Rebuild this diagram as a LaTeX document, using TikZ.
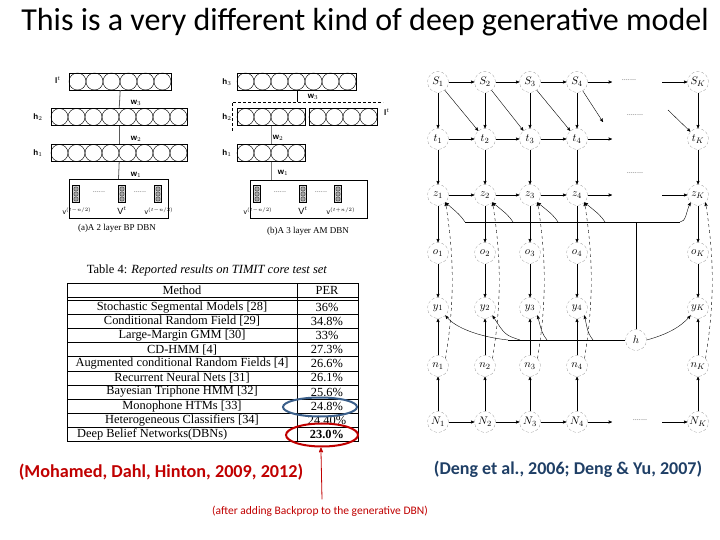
\documentclass[tikz,border=0pt]{standalone}
\usepackage{fontspec}
\setmainfont{Carlito}
\newfontfamily\tabfont{Liberation Serif}
\newfontfamily\dbnfont{Liberation Sans}
\usetikzlibrary{arrows,positioning,calc,shapes.geometric}
\definecolor{slred}{HTML}{C00000}
\definecolor{slblue}{HTML}{1F3F66}
\definecolor{ringblue}{HTML}{3B5F8A}

\tikzset{
  var/.style={circle,draw=gray,densely dashed,very thin,minimum size=21pt,
    inner sep=0pt,font=\fontsize{11}{13}\selectfont},
  dep/.style={->,thin},
  layerbox/.style={draw,thin,minimum height=17pt,inner sep=0pt},
  visbox/.style={draw,thin,inner sep=0pt},
  vcol/.style={draw,thin,fill=gray!35,minimum width=7pt,minimum height=17pt,inner sep=0pt},
  lbl/.style={font=\dbnfont\bfseries\fontsize{8}{9}\selectfont},
  vlbl/.style={font=\dbnfont\fontsize{7}{8}\selectfont},
  capt/.style={font=\tabfont\fontsize{9}{10}\selectfont},
  tabtext/.style={font=\tabfont\fontsize{12.4}{13}\selectfont,inner sep=0pt},
  dotsnode/.style={font=\fontsize{8}{9}\selectfont,text=gray},
}
% a layer: box with a row of touching units
\newcommand{\dbnlayer}[4]{%
  \node[layerbox,minimum width=#4*17pt,anchor=west] (#1) at (#2,#3) {};
  \foreach \k in {1,...,#4}
    \draw[thin] ($(#1.west)+(\k*17-8.5,0)$) circle (8.5pt);
}
% a column of visible units
\newcommand{\viscol}[3]{%
  \node[vcol] (#1) at (#2,#3) {};
  \foreach \dy in {-5,0,5}
    \draw[fill=gray!70,very thin] ($(#1)+(0,\dy)$) circle (2.2pt);
}

\begin{document}
\begin{tikzpicture}[x=1pt,y=-1pt,>=stealth']
\useasboundingbox (0,0) rectangle (720,540);

\node[font=\fontsize{32}{36}\selectfont] (title) at (365,22)
  {This is a very different kind of deep generative model};

%% (a) BP DBN
\dbnlayer{al}{69}{81.5}{6}
\dbnlayer{ah2}{51}{117}{8}
\dbnlayer{ah1}{51}{153}{8}
\node[visbox,minimum width=99pt,minimum height=39pt] (av) at (118.5,198.5) {};
\viscol{av1}{76}{194}
\viscol{av2}{122}{194}
\viscol{av3}{158}{194}
\node[dotsnode] (ad1) at (99,192) {......};
\node[dotsnode] (ad2) at (140,192) {......};
\node[vlbl] (avl1) at (77,211) {v$^{(t-n/2)}$};
\node[vlbl] (avl2) at (122,211) {\fontsize{9}{9}\selectfont V$^{t}$};
\node[vlbl] (avl3) at (159,211) {v$^{(t-n/2)}$};
\draw[thick,gray!70!black] (al.south) -- (ah2.north);
\draw[thick,gray!70!black] (ah2.south) -- (ah1.north);
\draw[thick,gray!70!black] (ah1.south) -- (av.north);
\node[lbl] (alt) at (58,80) {l$^{t}$};
\node[lbl] (ah2t) at (38,117) {h$_{2}$};
\node[lbl] (ah1t) at (38,153) {h$_{1}$};
\node[lbl] (aw3) at (136,103) {w$_{3}$};
\node[lbl] (aw2) at (136,139) {w$_{2}$};
\node[lbl] (aw1) at (136,175) {w$_{1}$};
\node[capt] (acap) at (117,228) {(a)A 2 layer BP DBN};

%% (b) AM DBN
\dbnlayer{bh3}{237}{81.5}{7}
\dbnlayer{bh2}{237}{117}{4}
\dbnlayer{bl}{309}{117}{4}
\dbnlayer{bh1}{237}{153}{4}
\node[visbox,minimum width=117pt,minimum height=38pt] (bv) at (308.5,199) {};
\viscol{bv1}{257}{194}
\viscol{bv2}{303}{194}
\viscol{bv3}{338}{194}
\node[dotsnode] (bd1) at (280,192) {......};
\node[dotsnode] (bd2) at (321,192) {......};
\node[vlbl] (bvl1) at (258,211) {v$^{(t-n/2)}$};
\node[vlbl] (bvl2) at (303,211) {\fontsize{9}{9}\selectfont V$^{t}$};
\node[vlbl] (bvl3) at (341,211) {v$^{(t+n/2)}$};
\coordinate (bcut) at (bh3.south |- 0,102);
\draw[densely dashed,thin] (232,131) -- (232,102) -- (383,102);
\draw[thin] (bh3.south) -- (bcut);
\draw[thin,gray] (bh2.south) -- (bh1.north);
\draw[thin,gray] (bh1.south) -- (bh1.south |- bv.north);
\node[lbl] (bh3t) at (227,82) {h$_{3}$};
\node[lbl] (bh2t) at (227,117) {h$_{2}$};
\node[lbl] (bh1t) at (227,153) {h$_{1}$};
\node[lbl] (blt) at (387,112) {l$^{t}$};
\node[lbl] (bw3) at (313,97) {w$_{3}$};
\node[lbl] (bw2) at (278,138) {w$_{2}$};
\node[lbl] (bw1) at (283,173) {w$_{1}$};
\node[capt] (bcap) at (308,231) {(b)A 3 layer AM DBN};

%% table
\node[font=\tabfont\fontsize{12.5}{14}\selectfont] (tabtitle) at (207,270)
  {Table 4: \textit{Reported results on TIMIT core test set}};
\draw[thin] (67,283) rectangle (358,441.5);
\draw[thin] (297,283) -- (297,441.5);
\draw[thin] (67,297) -- (358,297);
\draw[thin] (67,300) -- (358,300);
\foreach \k in {1,...,9}
  \draw[thin] (67,{300+\k*14.15}) -- (358,{300+\k*14.15});
\node[tabtext] (hmeth) at (182,290) {Method};
\node[tabtext] (hper) at (327,290) {PER};
\foreach \meth/\per [count=\r] in {Stochastic Segmental Models [28]/36\%,
    Conditional Random Field [29]/34.8\%, Large-Margin GMM [30]/33\%,
    CD-HMM [4]/27.3\%, Augmented conditional Random Fields [4]/26.6\%,
    Recurrent Neural Nets [31]/26.1\%, Bayesian Triphone HMM [32]/25.6\%,
    Monophone HTMs [33]/24.8\%, Heterogeneous Classifiers [34]/24.40\%}
{
  \node[tabtext] (meth\r) at (182,{307.1+(\r-1)*14.15}) {\meth};
  \node[tabtext] (per\r) at (327,{307.1+(\r-1)*14.15}) {\per};
}
\node[tabtext,anchor=west] (meth10) at (77,434.5) {Deep Belief Networks(DBNs)};
\node[tabtext,font=\tabfont\bfseries\fontsize{12.4}{13}\selectfont] (per10) at (327,434.5) {23.0\%};
\node[ellipse,draw=ringblue,line width=2pt,minimum width=74pt,minimum height=19pt] (ring24) at (320,407) {};
\node[ellipse,draw=slred,line width=2pt,minimum width=72pt,minimum height=23pt] (ring23) at (322,435) {};

%% citations
\node[font=\bfseries\fontsize{18.2}{21}\selectfont,text=slred] (cite1) at (161,472)
  {(Mohamed, Dahl, Hinton, 2009, 2012)};
\node[font=\bfseries\fontsize{18}{21}\selectfont,text=slblue] (cite2) at (568,469)
  {(Deng et al., 2006; Deng \& Yu, 2007)};
\node[font=\fontsize{11.5}{13}\selectfont,text=slred] (note) at (320,511)
  {(after adding Backprop to the generative DBN)};
\draw[slred,thick,->] ($(note.north)+(2,-3)$) -- (ring23.265);

%% hidden trajectory model
\foreach \c/\x in {1/438,2/485,3/530,4/577,K/698} {
  \node[var] (S\c) at (\x,82) {$S_{\c}$};
  \node[var] (t\c) at (\x,139) {$t_{\c}$};
  \node[var] (z\c) at (\x,195) {$z_{\c}$};
  \node[var] (o\c) at (\x,253) {$o_{\c}$};
  \node[var] (y\c) at (\x,308) {$y_{\c}$};
  \node[var] (n\c) at (\x,366) {$n_{\c}$};
  \node[var] (N\c) at (\x,422) {$N_{\c}$};
}
\node[var] (h) at (636,340) {$h$};
\node[dotsnode] (Sdots) at (629,80) {.......};
\node[dotsnode] (md1) at (635,115) {........};
\node[dotsnode] (md2) at (635,173) {........};
\node[dotsnode] (Ndots) at (640,420) {.......};
\coordinate (Sout) at (612,82);
\coordinate (Sin) at (662,82);
\coordinate (tout) at (612,139);
\coordinate (zout) at (612,195);
\coordinate (zin) at (662,195);
\coordinate (Nout) at (612,422);
\coordinate (Nin) at (662,422);
\coordinate (dgout) at (603,122);
\coordinate (dgin) at (668,110);

\foreach \a/\b in {1/2,2/3,3/4} {
  \draw[dep] (S\a) -- (S\b);
  \draw[dep] (t\a) -- (t\b);
  \draw[dep] (z\a) -- (z\b);
  \draw[dep] (N\a) -- (N\b);
  \draw[dep] (S\a) -- (t\b);
}
\draw[dep] (S4) -- (Sout);
\draw[dep] (Sin) -- (SK);
\draw[dep] (t4) -- (tout);
\draw[dep] (S4) -- (dgout);
\draw[dep] (dgin) -- (tK);
\draw[dep] (z4) -- (zout);
\draw[dep] (zin) -- (zK);
\draw[dep] (N4) -- (Nout);
\draw[dep] (Nin) -- (NK);
\foreach \c in {1,2,3,4,K} {
  \draw[dep] (S\c) -- (t\c);
  \draw[dep] (t\c) -- (z\c);
  \draw[dep] (z\c) -- (o\c);
  \draw[dep] (o\c) -- (y\c);
  \draw[dep] (N\c) -- (n\c);
  \draw[dep] (n\c) -- (y\c);
  \draw[dep,dashed] (n\c.north east) .. controls +(9,-55) and +(9,55) .. (z\c.south east);
}

% h feeding the z row
\coordinate (hz) at (636,222);
\coordinate (hzL) at (465,222);
\coordinate (hzR) at (680,222);
\coordinate (hz2) at (513,222);
\coordinate (hz3) at (558,222);
\coordinate (hz4) at (605,222);
\draw[thin] (h) -- (hz);
\draw[thin] (hzL) -- (hzR);
\draw[dep] (hzL) .. controls (460,215) .. (z1.south east);
\draw[dep] (hz2) .. controls (508,215) .. (z2.south east);
\draw[dep] (hz3) .. controls (553,215) .. (z3.south east);
\draw[dep] (hz4) .. controls (600,215) .. (z4.south east);
\draw[dep] (hzR) .. controls (686,222) and (686,212) .. (zK.south west);

% h feeding the y row
\coordinate (hyL) at (508,340);
\coordinate (hy2) at (520,340);
\coordinate (hy3) at (547,340);
\coordinate (hy4) at (593,340);
\draw[thin] (h) -- (hyL);
\draw[dep] (hyL) .. controls (480,337) and (455,328) .. (y1.south east);
\draw[dep] (hy2) .. controls (505,335) .. (y2.south east);
\draw[dep] (hy3) .. controls (542,333) .. (y3.south east);
\draw[dep] (hy4) .. controls (588,333) .. (y4.south east);
\draw[dep] (h.east) .. controls (665,335) and (680,328) .. (yK.south west);
\end{tikzpicture}
\end{document}
